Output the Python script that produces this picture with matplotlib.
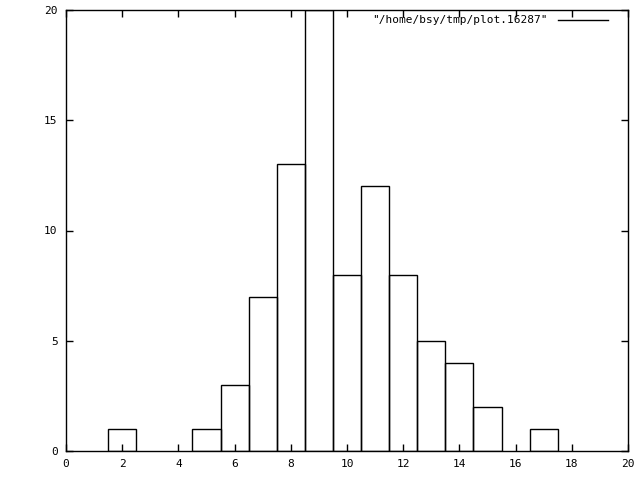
import matplotlib
matplotlib.use('AGG')
import matplotlib.pyplot as plt

centers = [2, 5, 6, 7, 8, 9, 10, 11, 12, 13, 14, 15, 17]
counts = [1, 1, 3, 7, 13, 20, 8, 12, 8, 5, 4, 2, 1]
label = '"/home/bsy/tmp/plot.16287"'

plt.rcParams['font.family'] = 'DejaVu Sans Mono'
plt.rcParams['font.size'] = 8

fig = plt.figure(figsize=(6.4, 4.8), dpi=100)
ax = fig.add_axes([66/640, 1-451/480, (628-66)/640, (451-10)/480])
ax.bar(centers, counts, width=1.0, facecolor='none', edgecolor='black', linewidth=1.0)
ax.set_xlim(0, 20)
ax.set_ylim(0, 20)
ax.set_xticks(range(0, 21, 2))
ax.set_yticks(range(0, 21, 5))
ax.tick_params(direction='in', top=True, right=True, length=5, width=1, pad=6)
for s in ax.spines.values():
    s.set_linewidth(1)

# legend key like gnuplot
ax.text(0.857, 0.977, label, transform=ax.transAxes, ha='right', va='center')
ax.plot([0.876, 0.965], [0.977, 0.977], transform=ax.transAxes, color='black', lw=1)

fig.savefig('out.png', dpi=100)
